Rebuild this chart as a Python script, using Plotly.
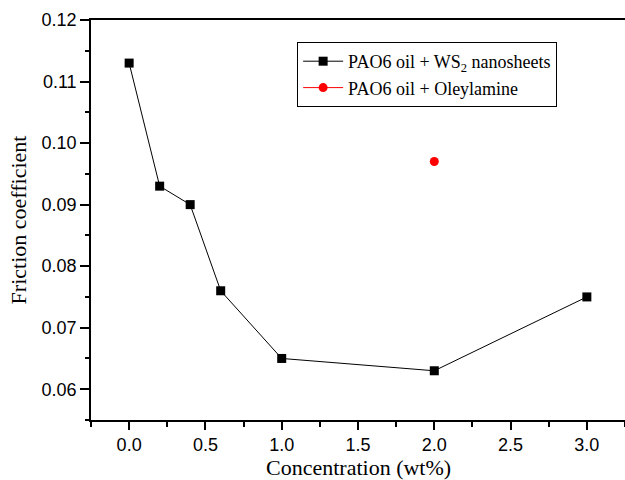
import plotly.graph_objects as go

conc_ws2 = [0.0, 0.2, 0.4, 0.6, 1.0, 2.0, 3.0]
fric_ws2 = [0.113, 0.093, 0.090, 0.076, 0.065, 0.063, 0.075]
conc_oley = [2.0]
fric_oley = [0.097]

fig = go.Figure()
fig.add_trace(go.Scatter(
    x=conc_ws2, y=fric_ws2, mode="lines+markers",
    name="PAO6 oil + WS<sub>2</sub> nanosheets",
    line=dict(color="black", width=1),
    marker=dict(symbol="square", size=9, color="black"),
))
fig.add_trace(go.Scatter(
    x=conc_oley, y=fric_oley, mode="lines+markers",
    name="PAO6 oil + Oleylamine",
    line=dict(color="red", width=1),
    marker=dict(symbol="circle", size=9, color="red"),
))

fig.update_layout(
    width=625, height=480,
    margin=dict(l=91, r=0, t=20, b=60),
    plot_bgcolor="white", paper_bgcolor="white",
    showlegend=True,
    legend=dict(
        x=0.386, y=0.945, xanchor="left", yanchor="top",
        bordercolor="black", borderwidth=1,
        font=dict(family="Liberation Serif", size=18, color="black"),
        bgcolor="white", tracegroupgap=0, itemwidth=40,
    ),
    xaxis=dict(
        range=[-0.25, 3.25], tickmode="linear", tick0=0, dtick=0.5,
        tickformat=".1f",
        showgrid=False, zeroline=False,
        showline=True, linecolor="black", linewidth=1.5, mirror=True,
        ticks="outside", ticklen=8, tickwidth=1.5, tickcolor="black",
        minor=dict(ticks="outside", ticklen=5, tickwidth=1.5, tickcolor="black", dtick=0.25, tick0=0.25),
        tickfont=dict(family="Liberation Sans", size=18, color="black"),
    ),
    yaxis=dict(
        range=[0.055, 0.12], tickmode="linear", tick0=0.06, dtick=0.01,
        tickformat=".2f",
        showgrid=False, zeroline=False,
        showline=True, linecolor="black", linewidth=1.5,
        ticks="outside", ticklen=9, tickwidth=1.5, tickcolor="black",
        minor=dict(ticks="outside", ticklen=4, tickwidth=1.5, tickcolor="black", dtick=0.005, tick0=0.055),
        tickfont=dict(family="Liberation Sans", size=18, color="black"),
        title=dict(text="Friction coefficient", font=dict(family="Liberation Serif", size=22, color="black"), standoff=9),
    ),
    annotations=[dict(
        text="Concentration (wt%)", xref="paper", yref="paper",
        x=0.5, y=-0.118, xanchor="center", yanchor="middle", showarrow=False,
        font=dict(family="Liberation Serif", size=22, color="black"),
    )],
)

fig.write_html("out.html")
